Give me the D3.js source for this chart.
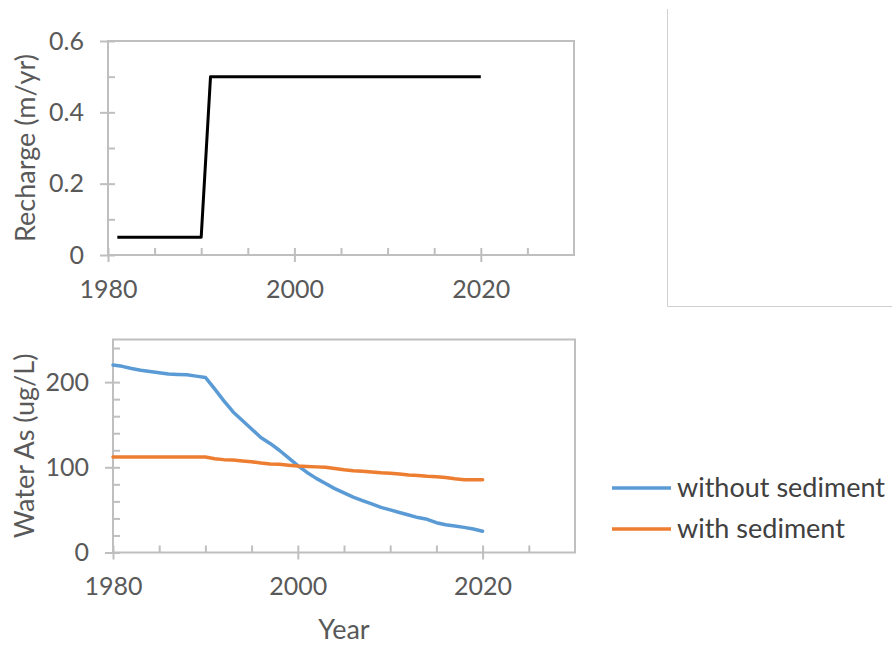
<!DOCTYPE html>
<html>
<head>
<meta charset="utf-8">
<script src="https://cdn.jsdelivr.net/npm/d3@7"></script>
<style>
  body { margin: 0; background: #fff; }
  svg { display: block; font-family: Lato, "Open Sans", sans-serif; }
</style>
</head>
<body>
<script>
// recharge (top panel)
const rechargeYears = [1981, 1990, 1991, 2020];
const rechargeValues = [0.05, 0.05, 0.5, 0.5];

// water arsenic (bottom panel)
const years = d3.range(1980, 2021);
const withoutSediment = [220, 218.5, 216, 214, 212.5, 211, 209.5, 209, 208.5, 207, 205.5,
  192, 178, 165, 155, 145, 135, 128, 120, 111, 102,
  94, 87, 81, 75, 70, 65, 61, 57, 53, 50,
  47, 44, 41, 39, 35, 32.5, 31, 29.5, 27.5, 25];
const withSediment = [112, 112, 112, 112, 112, 112, 112, 112, 112, 112, 112,
  110, 109, 108.5, 107.5, 106.5, 105, 104, 103.5, 102.5, 101.5,
  101, 100.5, 100, 98.5, 97, 96, 95.5, 94.5, 93.5, 93,
  92, 91, 90.5, 89.5, 89, 88, 86.5, 85.5, 85.5, 85.5];

const xTicks = [1980, 2000, 2020];
const xMinor = [1985, 1990, 1995, 2005, 2010, 2015, 2025];
const rechargeTicks = [0, 0.2, 0.4, 0.6];
const rechargeMinor = [0.1, 0.3, 0.5];
const asTicks = [0, 100, 200];
const asMinor = [20, 40, 60, 80, 120, 140, 160, 180, 220, 240];

const seriesNames = ['without sediment', 'with sediment'];
const seriesColors = ['#5b9bd5', '#ed7d31'];

const width = 892, height = 645;
const axisColor = '#bfbfbf';
const textColor = '#595959';
const tickFont = 25;
const titleFont = 27;

const svg = d3.select('body').append('svg')
  .attr('width', width)
  .attr('height', height);

// border of neighbouring (empty) chart object on the right
svg.append('path')
  .attr('d', 'M667.5,9 V306.5 H892')
  .attr('fill', 'none')
  .attr('stroke', '#d0d0d0')
  .attr('stroke-width', 1);

function panel(box, yDomain, yMajor, yMinor, yLabel, yFmt, labelX) {
  const x = d3.scaleLinear().domain([1980, 2030]).range([box.left, box.right]);
  const y = d3.scaleLinear().domain(yDomain).range([box.bottom, box.top]);
  const g = svg.append('g');

  // plot area frame
  g.append('rect')
    .attr('x', box.left).attr('y', box.top)
    .attr('width', box.right - box.left)
    .attr('height', box.bottom - box.top)
    .attr('fill', 'none')
    .attr('stroke', axisColor)
    .attr('stroke-width', 2);

  // x axis: outside major ticks + labels, inside major/minor ticks
  g.append('g')
    .attr('transform', `translate(0,${box.bottom})`)
    .call(d3.axisTop(x).tickValues(xTicks.concat(xMinor)).tickSize(7).tickFormat(''));
  const xOut = g.append('g')
    .attr('transform', `translate(0,${box.bottom})`)
    .call(d3.axisBottom(x).tickValues(xTicks).tickSize(7).tickFormat(d3.format('d')));
  xOut.selectAll('text').attr('y', 34).attr('dy', '0.35em');

  // y axis
  g.append('g')
    .attr('transform', `translate(${box.left},0)`)
    .call(d3.axisRight(y).tickValues(yMajor.concat(yMinor)).tickSize(7).tickFormat(''));
  const yOut = g.append('g')
    .attr('transform', `translate(${box.left},0)`)
    .call(d3.axisLeft(y).tickValues(yMajor).tickSize(8).tickFormat(yFmt));
  yOut.selectAll('text').attr('x', -24);

  g.selectAll('.domain').remove();
  g.selectAll('.tick line').attr('stroke', axisColor).attr('stroke-width', 2);
  g.selectAll('.tick text')
    .attr('fill', textColor)
    .style('font-size', tickFont + 'px')
    .style('font-family', 'Lato, "Open Sans", sans-serif');

  g.append('text')
    .attr('transform', `translate(${labelX},${(box.top + box.bottom) / 2}) rotate(-90)`)
    .attr('text-anchor', 'middle')
    .attr('dy', '0.35em')
    .attr('fill', textColor)
    .style('font-size', titleFont + 'px')
    .text(yLabel);

  return { x, y, g };
}

// top panel
const topPanel = panel({ left: 108, right: 574, top: 41, bottom: 255 },
  [0, 0.6], rechargeTicks, rechargeMinor, 'Recharge (m/yr)',
  d => d === 0 ? '0' : d3.format('.1f')(d), 26);

topPanel.g.append('path')
  .datum(rechargeYears.map((d, i) => [d, rechargeValues[i]]))
  .attr('fill', 'none')
  .attr('stroke', '#000')
  .attr('stroke-width', 3)
  .attr('stroke-linejoin', 'round')
  .attr('d', d3.line().x(d => topPanel.x(d[0])).y(d => topPanel.y(d[1])));

// bottom panel
const botPanel = panel({ left: 113, right: 575, top: 339.5, bottom: 552.5 },
  [0, 250], asTicks, asMinor, 'Water As (ug/L)', d3.format('d'), 25);

[withoutSediment, withSediment].forEach((vals, k) => {
  botPanel.g.append('path')
    .datum(vals.map((v, i) => [years[i], v]))
    .attr('fill', 'none')
    .attr('stroke', seriesColors[k])
    .attr('stroke-width', 3.5)
    .attr('stroke-linejoin', 'round')
    .attr('stroke-linecap', 'round')
    .attr('d', d3.line().x(d => botPanel.x(d[0])).y(d => botPanel.y(d[1])));
});

botPanel.g.append('text')
  .attr('x', 344)
  .attr('y', 630)
  .attr('dy', '0.35em')
  .attr('text-anchor', 'middle')
  .attr('fill', textColor)
  .style('font-size', titleFont + 'px')
  .text('Year');

// legend
const legend = svg.append('g').attr('transform', 'translate(612,488)');
seriesNames.forEach((name, i) => {
  const row = legend.append('g').attr('transform', `translate(0,${i * 41})`);
  row.append('line')
    .attr('x1', 0).attr('x2', 59)
    .attr('stroke', seriesColors[i])
    .attr('stroke-width', 3.5);
  row.append('text')
    .attr('x', 65)
    .attr('dy', '0.35em')
    .attr('fill', '#404040')
    .style('font-size', titleFont + 'px')
    .text(name);
});
</script>
</body>
</html>
